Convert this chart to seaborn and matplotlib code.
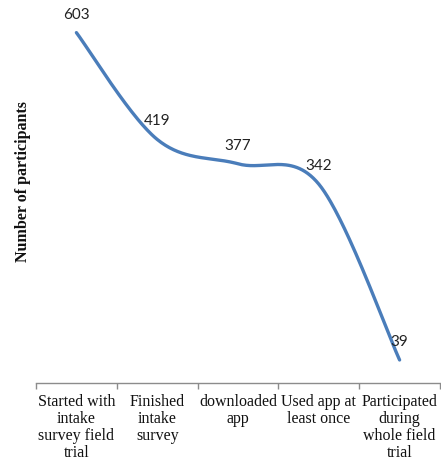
import numpy as np
import pandas as pd
import matplotlib
matplotlib.use("Agg")
import matplotlib.pyplot as plt
import seaborn as sns

# Funnel of field-trial participation
stages = [
    "Started with\nintake\nsurvey field\ntrial",
    "Finished\nintake\nsurvey",
    "downloaded\napp",
    "Used app at\nleast once",
    "Participated\nduring\nwhole field\ntrial",
]
participants = [603, 419, 377, 342, 39]

sns.set_style("white")

LINE_COLOR = "#4A7DBA"


def smooth_curve(xv, yv, steps=60):
    """Cardinal (Catmull-Rom) Bezier smoothing through every point."""
    xv = np.asarray(xv, float)
    yv = np.asarray(yv, float)
    n = len(xv)
    px = np.concatenate([[xv[0]], xv, [xv[-1]]])
    py = np.concatenate([[yv[0]], yv, [yv[-1]]])
    out_x, out_y = [], []
    t = np.linspace(0, 1, steps)
    for i in range(n - 1):
        p0 = np.array([px[i + 1], py[i + 1]])
        p3 = np.array([px[i + 2], py[i + 2]])
        c1 = p0 + (np.array([px[i + 2], py[i + 2]]) - np.array([px[i], py[i]])) / 6
        c2 = p3 - (np.array([px[i + 3], py[i + 3]]) - np.array([px[i + 1], py[i + 1]])) / 6
        b = ((1 - t) ** 3)[:, None] * p0 + (3 * (1 - t) ** 2 * t)[:, None] * c1 \
            + (3 * (1 - t) * t ** 2)[:, None] * c2 + (t ** 3)[:, None] * p3
        out_x.extend(b[:, 0])
        out_y.extend(b[:, 1])
    return np.array(out_x), np.array(out_y)


pos = np.arange(len(stages))
sx, sy = smooth_curve(pos, participants)
curve = pd.DataFrame({"stage": sx, "count": sy})

fig = plt.figure(figsize=(4.41, 4.66), dpi=100)
ax = fig.add_axes([36 / 441, 1 - 382.6 / 466, 404 / 441, (382.6 - 10) / 466])

sns.lineplot(data=curve, x="stage", y="count", ax=ax, color=LINE_COLOR,
             linewidth=2.4, sort=False, estimator=None)

for x, v in zip(pos, participants):
    ax.annotate(str(v), (x, v), xytext=(0, 8), textcoords="offset points",
                ha="center", va="bottom", fontsize=11, family="Lato",
                color="#222222")

ax.set_xlim(-0.5, len(stages) - 0.5)
ax.set_ylim(0, 642)
ax.set_yticks([])

# Category labels centred between boundary ticks
ax.set_xticks(pos)
ax.set_xticklabels(stages, family="Liberation Serif", fontsize=11.5,
                   linespacing=1.1, color="#111111")
ax.tick_params(axis="x", which="major", bottom=True, length=0, pad=8)
ax.set_xticks(np.arange(-0.5, len(stages)), minor=True)
ax.tick_params(axis="x", which="minor", bottom=True, length=4, width=1,
               color="#8C8C8C", direction="out")

for side in ("left", "right", "top"):
    ax.spines[side].set_visible(False)
ax.spines["bottom"].set_color("#8C8C8C")
ax.spines["bottom"].set_linewidth(1.0)

ax.set_xlabel("")
ax.set_ylabel("Number of participants", family="Liberation Serif",
              fontweight="bold", fontsize=11.5, color="#111111")
ax.yaxis.set_label_coords(-5 / 404, 0.54)

fig.savefig("out.png", dpi=100)
